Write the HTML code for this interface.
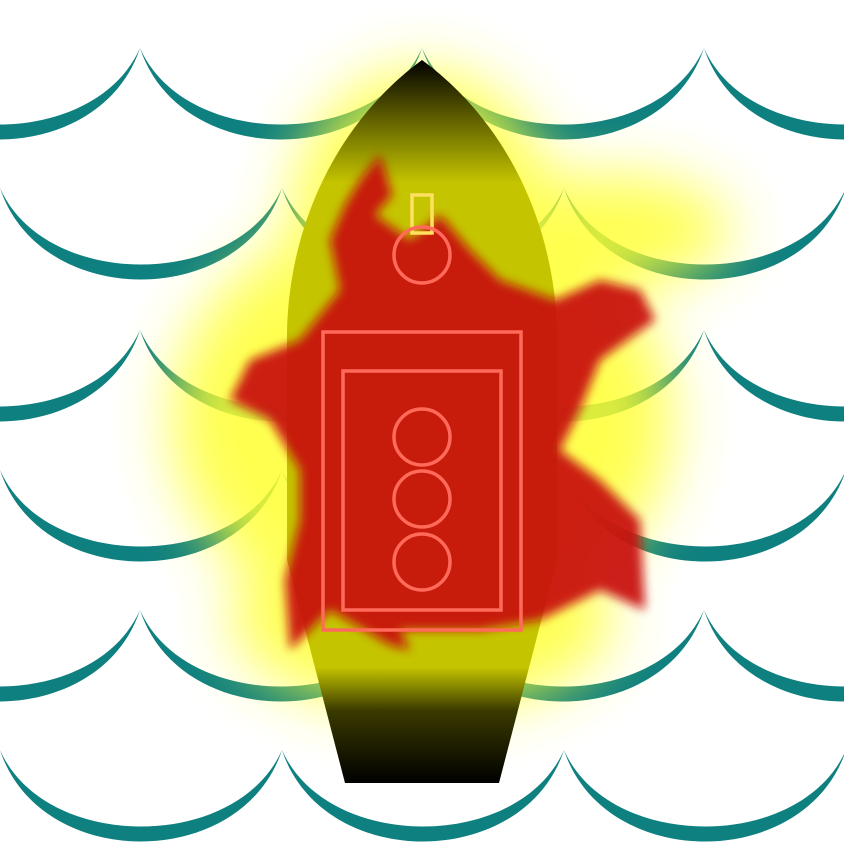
<!DOCTYPE html>
<html><head><meta charset="utf-8"><style>html,body{margin:0;padding:0;background:#fff}svg{display:block}</style></head>
<body>
<svg width="844" height="844" viewBox="0 0 844 844">
<defs>
<filter id="b30" x="-50%" y="-50%" width="200%" height="200%"><feGaussianBlur stdDeviation="30"/></filter>
<filter id="b8" x="-50%" y="-50%" width="200%" height="200%"><feGaussianBlur stdDeviation="5"/></filter>
<linearGradient id="hull" x1="0" y1="0" x2="0" y2="1">
<stop offset="0" stop-color="#000"/><stop offset="0.09" stop-color="#6a6a00"/><stop offset="0.17" stop-color="#c4c400"/><stop offset="0.84" stop-color="#c4c400"/><stop offset="0.9" stop-color="#3a3a00"/><stop offset="1" stop-color="#000"/>
</linearGradient>
</defs>
<g id="waves" fill="#0f8080"></g>
<g filter="url(#b30)" fill="#ffff30" opacity="0.85">
<ellipse cx="422" cy="420" rx="250" ry="210"/>
<ellipse cx="422" cy="220" rx="130" ry="150"/>
<ellipse cx="610" cy="230" rx="120" ry="55"/>
<ellipse cx="422" cy="620" rx="190" ry="90"/>
</g>
<path d="M422 60 C340 120 290 220 287 330 L287 560 L345 783 L499 783 L557 560 L557 330 C554 220 504 120 422 60 Z" fill="url(#hull)"/>
<g filter="url(#b8)" fill="#c80e0e" opacity="0.92">
<path d="M380 155 L392 195 L375 215 L410 240 L440 215 L470 250 L500 280 L555 300 L600 280 L640 290 L655 320 L600 360 L580 410 L560 450 L600 480 L640 520 L645 610 L600 590 L540 620 L480 630 L400 630 L410 650 L390 645 L330 610 L290 650 L285 580 L300 520 L300 470 L270 420 L230 400 L250 360 L300 340 L340 290 L330 240 L345 205 L360 180 Z"/>
</g>
<g fill="none" stroke="#ff6a5a" stroke-width="3.5">
<rect x="412" y="195" width="20" height="38" stroke="#ffe060"/>
<circle cx="422" cy="255" r="28"/>
<rect x="323" y="332" width="198" height="298"/>
<rect x="343" y="371" width="158" height="239"/>
<circle cx="422" cy="437" r="28"/>
<circle cx="422" cy="499" r="28"/>
<circle cx="422" cy="562" r="28"/>
</g>
<script>
const rowsPeakY = [48, 188, 330, 470, 610, 750];
const g = document.getElementById('waves');
rowsPeakY.forEach((y0, r) => {
  const off = r % 2 === 0 ? 140 : 0;
  for (let x0 = off - 282; x0 < 844; x0 += 282) {
    const x1 = x0 + 282;
    const p = document.createElementNS('http://www.w3.org/2000/svg', 'path');
    p.setAttribute('d', `M${x0} ${y0} C${x0+40} ${y0+122} ${x1-40} ${y0+122} ${x1} ${y0} C${x1-45} ${y0+102} ${x0+45} ${y0+102} ${x0} ${y0} Z`);
    
    
    g.appendChild(p);
  }
});
</script>
</svg>
</body></html>
